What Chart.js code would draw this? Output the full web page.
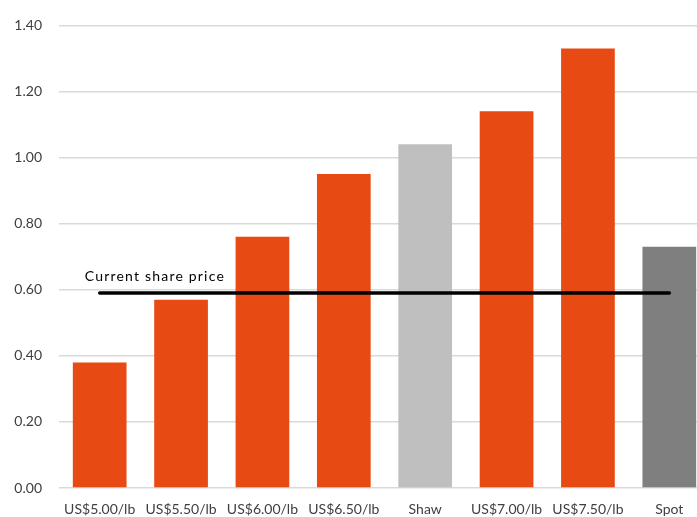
<!DOCTYPE html>
<html>
<head>
<meta charset="utf-8">
<script src="https://cdn.jsdelivr.net/npm/chart.js@4"></script>
<style>
  html, body { margin: 0; padding: 0; background: #fff; overflow: hidden; }
  #wrap { width: 697px; height: 517px; overflow: hidden; }
</style>
</head>
<body>
<div id="wrap"><canvas id="chart" width="710" height="517"></canvas></div>
<script>
const categories = ["US$5.00/lb", "US$5.50/lb", "US$6.00/lb", "US$6.50/lb", "Shaw", "US$7.00/lb", "US$7.50/lb", "Spot"];
const valuations = [0.38, 0.57, 0.76, 0.95, 1.04, 1.14, 1.33, 0.73];
const sharePrice = 0.59;
const sharePriceLabel = "Current share price";

const orange = "#E84A13";
const barColors = categories.map((c) => c === "Shaw" ? "#BFBFBF" : c === "Spot" ? "#7F7F7F" : orange);

const fontFamily = "Lato, 'Liberation Sans', sans-serif";

const priceLabel = {
  id: "priceLabel",
  afterDatasetsDraw(chart) {
    const { ctx, scales } = chart;
    const x = scales.x.getPixelForValue(0) - 15;
    const y = scales.y.getPixelForValue(sharePrice) - 17;
    ctx.save();
    ctx.font = "14px " + fontFamily;
    ctx.fillStyle = "#000";
    ctx.textBaseline = "middle";
    ctx.letterSpacing = "1.2px";
    ctx.fillText(sharePriceLabel, x, y);
    ctx.restore();
  },
};

new Chart(document.getElementById("chart").getContext("2d"), {
  type: "bar",
  data: {
    labels: categories,
    datasets: [
      {
        type: "line",
        data: categories.map(() => sharePrice),
        borderColor: "#000",
        borderWidth: 3.5,
        borderCapStyle: "round",
        pointRadius: 0,
        order: 0,
      },
      {
        data: valuations,
        backgroundColor: barColors,
        categoryPercentage: 1,
        barPercentage: 0.66,
        order: 1,
      },
    ],
  },
  options: {
    responsive: false,
    animation: false,
    layout: { padding: { top: 19, bottom: 0, left: 0, right: 0 } },
    plugins: { legend: { display: false }, tooltip: { enabled: false } },
    scales: {
      x: {
        afterFit: (scale) => { scale.height = 29; },
        grid: { display: false, drawTicks: false },
        border: { display: false },
        ticks: { color: "#404040", font: { family: fontFamily, size: 14 }, padding: 13, maxRotation: 0, autoSkip: false },
      },
      y: {
        min: 0,
        max: 1.4,
        afterFit: (scale) => { scale.width = 59; },
        grid: { color: "#D9D9D9", lineWidth: 1.5, drawTicks: false },
        border: { display: false },
        ticks: {
          stepSize: 0.2,
          padding: 17,
          color: "#404040",
          font: { family: fontFamily, size: 14 },
          callback: (v) => v.toFixed(2),
        },
      },
    },
  },
  plugins: [priceLabel],
});
</script>
</body>
</html>
